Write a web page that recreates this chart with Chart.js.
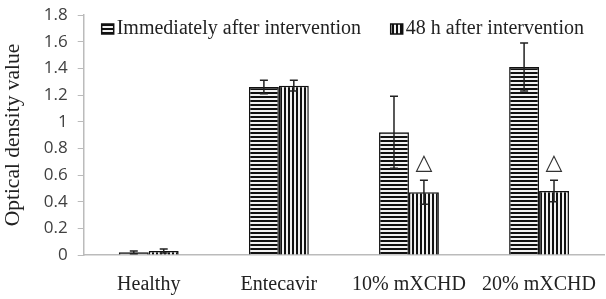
<!DOCTYPE html>
<html>
<head>
<meta charset="utf-8">
<script src="https://cdn.jsdelivr.net/npm/chart.js@4"></script>
<style>
  body { margin: 0; background: #fff; }
  #wrap { width: 606px; height: 299px; }
</style>
</head>
<body>
<div id="wrap"><canvas id="odChart" width="606" height="299"></canvas></div>
<script>
// data
const groups = ['Healthy', 'Entecavir', '10% mXCHD', '20% mXCHD'];
const immediateValues = [0.02, 1.26, 0.92, 1.41];
const immediateErrors = [0.01, 0.05, 0.27, 0.18];
const after48Values = [0.03, 1.27, 0.47, 0.48];
const after48Errors = [0.015, 0.04, 0.09, 0.08];
const markers = ['', '', '△', '△'];
const yTicks = [0, 0.2, 0.4, 0.6, 0.8, 1, 1.2, 1.4, 1.6, 1.8];

const serif = '"Liberation Serif", "Times New Roman", serif';

function stripePattern(vertical) {
    const c = document.createElement('canvas');
    c.width = 4;
    c.height = 4;
    const g = c.getContext('2d');
    g.fillStyle = '#f2f2f2';
    g.fillRect(0, 0, 4, 4);
    g.fillStyle = '#111';
    if (vertical) g.fillRect(0, 0, 2, 4);
    else g.fillRect(0, 0, 4, 2);
    return g.createPattern(c, 'repeat');
}

// error bars and the triangle marks
const errorBarPlugin = {
    id: 'errorBars',
    afterDatasetsDraw(chart) {
        const ctx = chart.ctx;
        const y = chart.scales.y;
        const errs = [immediateErrors, after48Errors];
        ctx.save();
        ctx.strokeStyle = '#222';
        ctx.lineWidth = 1.5;
        chart.data.datasets.forEach(function(ds, i) {
            const meta = chart.getDatasetMeta(i);
            meta.data.forEach(function(bar, j) {
                const v = ds.data[j];
                const top = y.getPixelForValue(v + errs[i][j]);
                const bot = y.getPixelForValue(Math.max(0, v - errs[i][j]));
                ctx.beginPath();
                ctx.moveTo(bar.x, top);
                ctx.lineTo(bar.x, bot);
                ctx.moveTo(bar.x - 4, top);
                ctx.lineTo(bar.x + 4, top);
                ctx.moveTo(bar.x - 4, bot);
                ctx.lineTo(bar.x + 4, bot);
                ctx.stroke();
                if (i === 1 && markers[j]) {
                    ctx.fillStyle = '#333';
                    ctx.font = '22px "DejaVu Sans"';
                    ctx.textAlign = 'center';
                    ctx.textBaseline = 'bottom';
                    ctx.fillText(markers[j], bar.x, top - 6);
                }
            });
        });
        ctx.restore();
    }
};

// legend drawn over the top of the plot, like the original
const overlayLegend = {
    id: 'overlayLegend',
    afterDraw(chart) {
        const ctx = chart.ctx;
        const area = chart.chartArea;
        const starts = [area.left + 18, area.left + 307];
        ctx.save();
        ctx.font = '20px ' + serif;
        ctx.textBaseline = 'middle';
        chart.data.datasets.forEach(function(ds, i) {
            const x = starts[i];
            const yMid = area.top + 14;
            ctx.fillStyle = ds.backgroundColor;
            ctx.fillRect(x, yMid - 5, 12, 10);
            ctx.strokeStyle = '#111';
            ctx.lineWidth = 1.5;
            ctx.strokeRect(x, yMid - 5, 12, 10);
            ctx.fillStyle = '#222';
            ctx.fillText(ds.label, x + 15, yMid);
        });
        ctx.restore();
    }
};

new Chart(document.getElementById('odChart').getContext('2d'), {
    type: 'bar',
    data: {
        labels: groups,
        datasets: [
            {
                label: 'Immediately after intervention',
                data: immediateValues,
                backgroundColor: stripePattern(false),
                borderColor: '#111',
                borderWidth: 1.5
            },
            {
                label: '48 h after intervention',
                data: after48Values,
                backgroundColor: stripePattern(true),
                borderColor: '#111',
                borderWidth: 1.5
            }
        ]
    },
    options: {
        responsive: false,
        animation: false,
        layout: { padding: { top: 0, right: -4, left: 0, bottom: -8 } },
        datasets: {
            bar: { barPercentage: 1, categoryPercentage: 0.46 }
        },
        plugins: {
            legend: { display: false },
            tooltip: { enabled: false }
        },
        scales: {
            x: {
                grid: { display: false },
                border: { color: '#bbb', width: 1.5 },
                ticks: {
                    color: '#222',
                    padding: 10,
                    font: { family: serif, size: 20 }
                }
            },
            y: {
                min: 0,
                max: 1.8,
                afterBuildTicks: function(axis) {
                    axis.ticks = yTicks.map(function(v) { return { value: v }; });
                },
                // the tick padding would otherwise push the top down
                afterFit: function(axis) {
                    axis.paddingTop = 15;
                },
                grid: {
                    drawOnChartArea: false,
                    tickLength: 6,
                    color: '#bbb'
                },
                border: { color: '#bbb', width: 1.5 },
                ticks: {
                    color: '#404040',
                    padding: 10,
                    font: { family: '"Open Sans", sans-serif', size: 17 },
                    callback: function(v) { return String(Math.round(v * 10) / 10); }
                },
                title: {
                    display: true,
                    text: 'Optical density value',
                    color: '#222',
                    padding: { top: 0, bottom: 8 },
                    font: { family: serif, size: 21.5 }
                }
            }
        }
    },
    plugins: [errorBarPlugin, overlayLegend]
});
</script>
</body>
</html>
